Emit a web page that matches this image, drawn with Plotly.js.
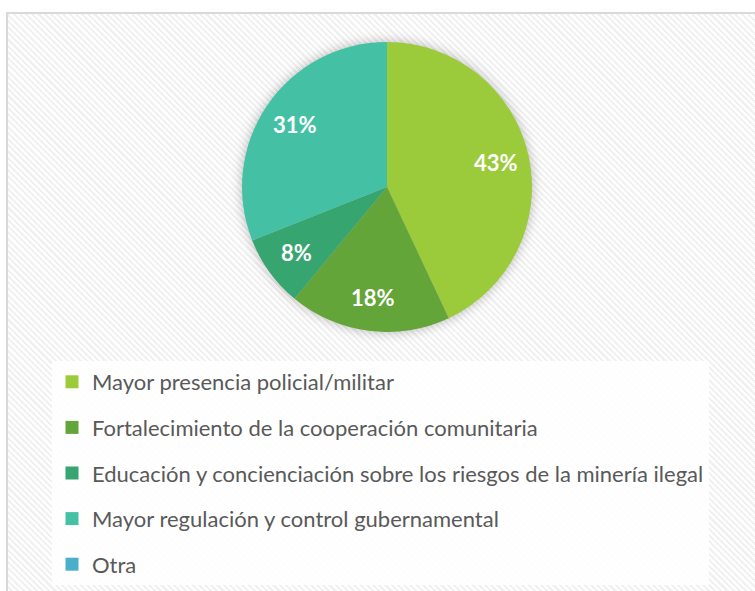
<!DOCTYPE html>
<html>
<head>
<meta charset="utf-8">
<script src="https://cdn.plot.ly/plotly-3.0.1.min.js"></script>
<style>
  html, body { margin: 0; padding: 0; background: #ffffff; width: 755px; height: 591px; overflow: hidden; }
  #frame {
    position: absolute; left: 6px; top: 12px; width: 800px; height: 640px;
    border: 2px solid #D9D9D9;
    background: repeating-linear-gradient(45deg, #ffffff 0px, #ffffff 2.2px, #f1f1f1 2.2px, #f1f1f1 4.4px);
  }
  #chart { position: absolute; left: 0; top: 0; width: 755px; height: 591px; }
  #chart .pielayer { filter: drop-shadow(0px 0px 6px rgba(0,0,0,0.28)); }
</style>
</head>
<body>
<div id="frame"></div>
<div id="chart"></div>
<script>
const categories = [
  "Mayor presencia policial/militar",
  "Fortalecimiento de la cooperación comunitaria",
  "Educación y concienciación sobre los riesgos de la minería ilegal",
  "Mayor regulación y control gubernamental",
  "Otra"
];
const values = [43, 18, 8, 31, 0];
const colors = ["#9BCB3B", "#63A539", "#37A56F", "#44C1A4", "#4BAFCB"];

const W = 755, H = 591;
const pieDomain = { x: [242 / W, 532 / W], y: [1 - 332 / H, 1 - 42 / H] };

const pie = {
  type: "pie",
  labels: categories,
  values: values,
  sort: false,
  direction: "clockwise",
  rotation: 0,
  marker: { colors: colors, line: { width: 0 } },
  textinfo: "none",
  hoverinfo: "label+percent",
  showlegend: false,
  domain: pieDomain
};

// legend entries (one group per category for spacing)
const legendTraces = categories.map((c, i) => ({
  type: "scatter",
  mode: "markers",
  x: [null], y: [null],
  name: c,
  legendgroup: "g" + i,
  marker: { symbol: "square", size: 13, color: colors[i] },
  showlegend: true,
  hoverinfo: "skip"
}));

// percentage labels placed along each slice's mid-angle (derived from the values)
const total = values.reduce((a, b) => a + b, 0);
const cx = (pieDomain.x[0] + pieDomain.x[1]) / 2 * W;
const cy = (1 - (pieDomain.y[0] + pieDomain.y[1]) / 2) * H;
const R = Math.min((pieDomain.x[1] - pieDomain.x[0]) * W, (pieDomain.y[1] - pieDomain.y[0]) * H) / 2;
const annotations = [];
let cum = 0;
values.forEach((v, i) => {
  const mid = (cum + v / 2) / total * 2 * Math.PI;
  cum += v;
  if (v <= 0) return;
  const r = R * 0.77;
  const px = cx + r * Math.sin(mid);
  const py = cy - r * Math.cos(mid);
  annotations.push({
    xref: "paper", yref: "paper",
    x: px / W, y: 1 - py / H,
    xanchor: "center", yanchor: "middle",
    text: Math.round(v / total * 100) + "%",
    showarrow: false,
    font: { family: "Lato, 'Open Sans', sans-serif", size: 22, color: "#ffffff", weight: 700 }
  });
});

const layout = {
  width: W, height: H,
  margin: { l: 0, r: 0, t: 0, b: 0 },
  paper_bgcolor: "rgba(0,0,0,0)",
  plot_bgcolor: "rgba(0,0,0,0)",
  xaxis: { visible: false },
  yaxis: { visible: false },
  showlegend: true,
  annotations: annotations,
  legend: {
    x: 52 / W, y: 1 - 361 / H, xanchor: "left", yanchor: "top",
    bgcolor: "rgba(255,255,255,0.92)",
    borderwidth: 0,
    font: { family: "Lato, 'Open Sans', sans-serif", size: 22, color: "#595959" },
    tracegroupgap: 14,
    itemclick: false
  }
};

Plotly.newPlot("chart", [pie].concat(legendTraces), layout, { displayModeBar: false, staticPlot: true });
</script>
</body>
</html>
